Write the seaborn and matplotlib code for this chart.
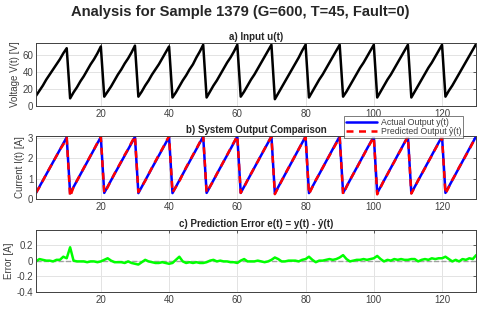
import matplotlib
matplotlib.use("Agg")
import matplotlib.pyplot as plt
import seaborn as sns
import numpy as np
import pandas as pd

# time axis (samples 1..130)
t = list(range(1, 131))

# a) input voltage u(t) [V], read per 10-sample cycle
voltage = [
    12, 18, 24, 31, 37, 43, 49, 55, 62, 68,
    9, 16, 22, 29, 35, 42, 49, 55, 62, 70,
    11, 17, 23, 30, 37, 43, 50, 56, 63, 71,
    11, 17, 24, 30, 37, 43, 49, 56, 63, 70,
    10, 16, 23, 30, 36, 43, 49, 57, 64, 72,
    10, 17, 24, 30, 37, 44, 51, 57, 64, 72,
    11, 17, 24, 31, 37, 44, 51, 58, 65, 72,
    8, 15, 22, 29, 36, 43, 50, 57, 65, 72,
    10, 17, 24, 31, 37, 44, 51, 58, 65, 72,
    11, 17, 24, 31, 38, 45, 51, 58, 65, 72,
    10, 17, 24, 31, 37, 44, 51, 58, 65, 72,
    10, 17, 24, 31, 38, 45, 51, 58, 65, 72,
    11, 18, 24, 31, 38, 45, 52, 59, 66, 73,
]

# b) actual output current y(t) [A]
current = [
    0.30, 0.60, 0.91, 1.21, 1.51, 1.81, 2.11, 2.42, 2.72, 3.02,
    0.28, 0.59, 0.89, 1.20, 1.50, 1.81, 2.12, 2.42, 2.73, 3.03,
    0.30, 0.61, 0.91, 1.22, 1.52, 1.82, 2.13, 2.43, 2.74, 3.04,
    0.29, 0.60, 0.90, 1.21, 1.52, 1.82, 2.13, 2.43, 2.74, 3.04,
    0.29, 0.60, 0.91, 1.21, 1.52, 1.83, 2.13, 2.44, 2.75, 3.06,
    0.30, 0.61, 0.91, 1.22, 1.53, 1.83, 2.14, 2.45, 2.75, 3.06,
    0.30, 0.61, 0.92, 1.22, 1.53, 1.84, 2.14, 2.45, 2.76, 3.06,
    0.28, 0.59, 0.90, 1.21, 1.52, 1.83, 2.14, 2.45, 2.76, 3.06,
    0.29, 0.60, 0.91, 1.22, 1.53, 1.84, 2.15, 2.45, 2.76, 3.06,
    0.30, 0.61, 0.92, 1.22, 1.53, 1.84, 2.15, 2.46, 2.76, 3.06,
    0.29, 0.60, 0.91, 1.22, 1.53, 1.84, 2.15, 2.45, 2.76, 3.06,
    0.29, 0.60, 0.91, 1.22, 1.53, 1.84, 2.15, 2.46, 2.76, 3.06,
    0.30, 0.61, 0.92, 1.23, 1.54, 1.85, 2.15, 2.46, 2.77, 3.07,
]

# c) prediction error e(t) = y(t) - yhat(t) [A]
error = [
    -0.01, 0.02, 0.01, 0.00, 0.00, -0.01, 0.01, 0.01, 0.05, 0.03,
    0.17, 0.00, -0.01, -0.01, -0.01, -0.02, -0.01, -0.01, -0.02, -0.01,
    0.01, 0.03, 0.00, -0.02, -0.02, -0.02, -0.03, -0.01, -0.03, -0.04,
    -0.05, -0.02, 0.01, -0.01, -0.02, -0.03, -0.03, -0.02, -0.03, -0.04,
    -0.03, 0.01, 0.05, -0.01, -0.03, -0.02, -0.03, -0.02, -0.03, -0.03,
    -0.02, 0.00, 0.01, -0.01, 0.00, -0.01, -0.01, -0.02, -0.02, -0.03,
    0.00, 0.02, -0.01, -0.01, -0.01, 0.00, -0.01, -0.02, -0.01, 0.01,
    0.04, 0.02, -0.01, -0.01, 0.00, 0.00, 0.00, -0.01, 0.01, 0.02,
    0.05, 0.01, -0.02, 0.00, 0.00, 0.01, 0.02, 0.01, 0.02, 0.04,
    0.07, 0.02, -0.01, 0.00, 0.01, 0.01, 0.02, 0.01, 0.02, 0.03,
    0.06, 0.02, -0.01, 0.01, 0.00, 0.02, 0.01, 0.02, 0.01, 0.01,
    0.02, 0.02, -0.01, 0.01, 0.02, 0.01, 0.03, 0.02, 0.03, 0.03,
    0.05, 0.02, -0.01, 0.01, -0.01, 0.02, 0.01, 0.03, 0.02, 0.07,
]

title = "Analysis for Sample 1379 (G=600, T=45, Fault=0)"
xticks = [20, 40, 60, 80, 100, 120]


def style_axes(ax, ylim, yticks, ylabel, sub_title):
    ax.set_xlim(1, 130)
    ax.set_ylim(*ylim)
    ax.set_xticks(xticks)
    ax.set_yticks(yticks)
    ax.set_yticklabels([f"{v:g}" for v in yticks])
    ax.set_xlabel("")
    ax.set_ylabel(ylabel, fontsize=7, color="#404040", labelpad=2)
    ax.set_title(sub_title, fontsize=7, fontweight="bold", color="#262626", pad=2)
    ax.grid(True, color="#e3e3e3", lw=0.7)
    ax.tick_params(axis="both", labelsize=7, colors="#404040", length=2.5, width=0.6,
                   direction="in", pad=2, top=True, right=True)
    for sp in ax.spines.values():
        sp.set_color("#404040")
        sp.set_linewidth(0.7)


def main():
    sns.set_theme(style="white")
    plt.rcParams["font.family"] = ["Liberation Sans", "DejaVu Sans"]

    df = pd.DataFrame({"t": t, "u": voltage, "y": current, "e": error})
    df["yhat"] = df["y"] - df["e"]

    fig = plt.figure(figsize=(4.8, 3.1), dpi=100)
    ax_a = fig.add_axes([0.075, 0.658, 0.917, 0.203])
    ax_b = fig.add_axes([0.075, 0.358, 0.917, 0.203])
    ax_c = fig.add_axes([0.075, 0.058, 0.917, 0.200])

    sns.lineplot(data=df, x="t", y="u", color="black", lw=1.8, ax=ax_a)
    style_axes(ax_a, (0, 74), [0, 20, 40, 60], "Voltage V(t) [V]", "a) Input u(t)")

    sns.lineplot(data=df, x="t", y="y", color="#0000ff", lw=1.8, ax=ax_b, label="Actual Output y(t)")
    sns.lineplot(data=df, x="t", y="yhat", color="#ff0000", lw=1.8, ax=ax_b,
                 label="Predicted Output ŷ(t)", dashes=False)
    ax_b.get_lines()[1].set_dashes([2.8, 2.2])
    style_axes(ax_b, (0, 3.08), [0, 1, 2, 3], "Current I(t) [A]", "b) System Output Comparison")
    leg = ax_b.legend(loc="upper right", bbox_to_anchor=(463 / 480, 1 - 116 / 310),
                      bbox_transform=fig.transFigure, fontsize=6.3,
                      frameon=True, fancybox=False, borderaxespad=0, handlelength=3.6,
                      borderpad=0.2, labelspacing=0.05, handletextpad=0.4)
    leg.get_frame().set_edgecolor("#404040")
    leg.get_frame().set_linewidth(0.6)
    for txt in leg.get_texts():
        txt.set_color("#404040")

    ax_c.axhline(0, color="#a0a0a0", lw=1.0, ls="--")
    sns.lineplot(data=df, x="t", y="e", color="#00ff00", lw=1.8, ax=ax_c)
    style_axes(ax_c, (-0.4, 0.39), [-0.4, -0.2, 0, 0.2], "Error [A]",
               "c) Prediction Error e(t) = y(t) - ŷ(t)")

    fig.suptitle(title, fontsize=10.6, fontweight="bold", color="#262626", y=0.985)
    fig.savefig("out.png", dpi=100)


if __name__ == "__main__":
    main()
